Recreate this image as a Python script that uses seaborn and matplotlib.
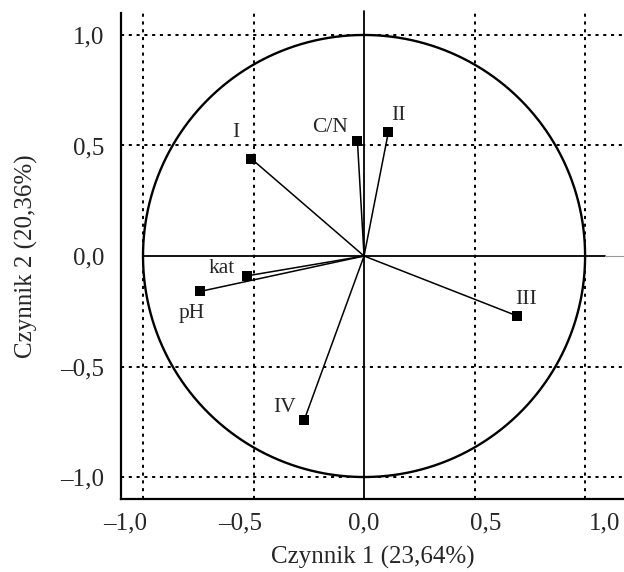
import matplotlib
matplotlib.use('Agg')
import matplotlib.pyplot as plt
import numpy as np
import pandas as pd
import seaborn as sns

# ładunki zmiennych na czynnikach 1 i 2
variables = ['I', 'C/N', 'II', 'kat', 'pH', 'III', 'IV']
factor1 = [-0.51, -0.03, 0.11, -0.53, -0.74, 0.69, -0.27]
factor2 = [0.44, 0.52, 0.56, -0.09, -0.16, -0.27, -0.74]

grid_values = [-1.0, -0.5, 0.5, 1.0]
tick_values = [-1.0, -0.5, 0.0, 0.5, 1.0]
tick_labels = ['–1,0', '–0,5', '0,0', '0,5', '1,0']

xlabel = 'Czynnik 1 (23,64%)'
ylabel = 'Czynnik 2 (20,36%)'

# przesunięcia etykiet względem punktów (w punktach typograficznych)
label_offsets = {
    'I': (-11, 19), 'C/N': (-20, 10), 'II': (7, 12), 'kat': (-18, 5),
    'pH': (-6, -16), 'III': (7, 12), 'IV': (-14, 9),
}
# położenie podpisów osi X na oryginale jest przesunięte względem siatki
xtick_pos = [-1.08, -0.56, 0.0, 0.55, 1.09]

df = pd.DataFrame({'var': variables, 'f1': factor1, 'f2': factor2})

sns.set_style('white')
plt.rcParams['font.family'] = ['Liberation Serif', 'DejaVu Serif']

fig = plt.figure(figsize=(6.24, 5.72), dpi=100)
ax = fig.add_axes([0.1934, 0.1276, 0.8066, 0.8497])
ax.set_xlim(-1.101, 1.176)
ax.set_ylim(-1.0995, 1.0995)

dot = (0, (1.6, 2.4))
for g in grid_values:
    ax.axvline(g, color='black', lw=1.4, ls=dot, zorder=1)
    ax.axhline(g, color='black', lw=1.4, ls=dot, zorder=1)

# koło korelacji
t = np.linspace(0, 2 * np.pi, 400)
ax.plot(np.cos(t), np.sin(t), color='black', lw=1.7, zorder=2)

# osie przez środek
ax.plot([-1.0, 1.09], [0, 0], color='black', lw=1.3, zorder=2)
ax.plot([1.09, 1.176], [0, 0], color='#999999', lw=0.8, zorder=2)
ax.plot([0, 0], [-1.0995, 1.11], color='black', lw=1.3, zorder=2, clip_on=False)

# wektory
for _, r in df.iterrows():
    ax.plot([0, r['f1']], [0, r['f2']], color='black', lw=1.1, zorder=3)

sns.scatterplot(data=df, x='f1', y='f2', marker='s', s=55, color='black',
                edgecolor='black', linewidth=0, ax=ax, zorder=4, legend=False)

for _, r in df.iterrows():
    dx, dy = label_offsets[r['var']]
    ax.annotate(r['var'], (r['f1'], r['f2']), xytext=(dx, dy),
                textcoords='offset points', ha='center', va='center',
                fontsize=15.5)

ax.set_xticks(xtick_pos)
ax.set_xticklabels(tick_labels)
ax.set_yticks(tick_values)
ax.set_yticklabels(tick_labels)
ax.tick_params(axis='both', length=0, labelsize=18, pad=10)
ax.tick_params(axis='y', pad=12)

ax.set_xlabel(xlabel, fontsize=18, labelpad=8)
ax.set_ylabel(ylabel, fontsize=18, labelpad=16)

for side in ['top', 'right']:
    ax.spines[side].set_visible(False)
for side in ['left', 'bottom']:
    ax.spines[side].set_color('black')
    ax.spines[side].set_linewidth(1.6)

plt.savefig('out.png', dpi=100)
